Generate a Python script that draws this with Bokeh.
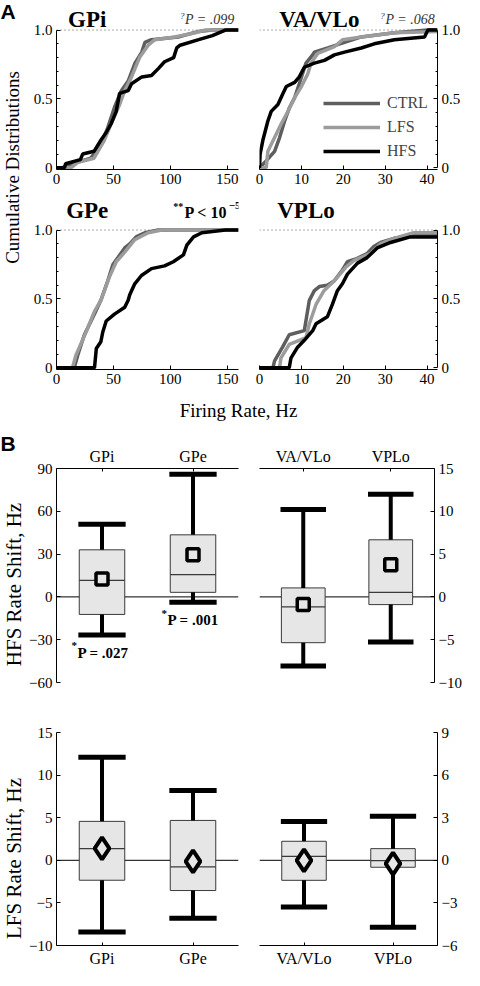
import numpy as np
from bokeh.plotting import figure
from bokeh.models import Range1d, FixedTicker, Span, Legend, LegendItem
from bokeh.layouts import row, column
from bokeh.embed import file_html
from bokeh.resources import INLINE
from bokeh.core.properties import value

# ---------------- data: cumulative distributions (Hz, fraction) ----------------
gpi_ctrl_x = [0, 5, 10, 30, 39, 45, 51, 57, 63, 69, 75, 77.7, 83.5, 107, 125, 137, 160]
gpi_ctrl_y = [0, 0, 0.02, 0.07, 0.17, 0.29, 0.44, 0.56, 0.63, 0.76, 0.84, 0.91, 0.93, 0.95, 0.99, 1.0, 1.0]
gpi_lfs_x = [0, 12.7, 18.6, 33, 42, 48, 55.5, 60, 66, 73, 80.6, 86.5, 104, 122, 131, 160]
gpi_lfs_y = [0, 0, 0.04, 0.07, 0.2, 0.32, 0.46, 0.56, 0.66, 0.8, 0.89, 0.93, 0.95, 0.98, 1.0, 1.0]
gpi_hfs_x = [0, 7, 8, 21, 23, 33, 39, 44, 48, 52.5, 55.5, 63, 66, 75, 83.5, 89.5, 95, 103, 105.7, 108.7, 125, 137, 148.5, 160]
gpi_hfs_y = [0, 0, 0.03, 0.06, 0.1, 0.12, 0.2, 0.26, 0.32, 0.41, 0.54, 0.56, 0.61, 0.66, 0.67, 0.72, 0.77, 0.8, 0.87, 0.89, 0.93, 0.96, 1.0, 1.0]

va_ctrl_x = [0, 1.6, 3.6, 4.8, 6, 7.2, 8.4, 9.5, 11.1, 12.7, 13.1, 16.3, 20.3, 24.3, 32.2, 40.2, 42.5]
va_ctrl_y = [0, 0.05, 0.12, 0.22, 0.34, 0.44, 0.51, 0.61, 0.76, 0.82, 0.84, 0.87, 0.91, 0.95, 0.98, 1.0, 1.0]
va_lfs_x = [0, 1.6, 2.0, 3.6, 5.2, 6.8, 8.4, 10, 11.5, 12.3, 13.9, 17.9, 19.9, 24.3, 32.2, 42.5]
va_lfs_y = [0, 0, 0.12, 0.22, 0.32, 0.41, 0.51, 0.59, 0.68, 0.76, 0.83, 0.88, 0.93, 0.95, 0.98, 0.99]
va_hfs_x = [0, 0.15, 0.8, 2.0, 2.8, 4.4, 5.6, 6.4, 8.4, 9.5, 10.7, 13.1, 15.5, 17.9, 20.3, 24.3, 27.4, 32.2, 39.4, 40.2, 42.5]
va_hfs_y = [0, 0.1, 0.2, 0.34, 0.41, 0.46, 0.54, 0.59, 0.62, 0.66, 0.73, 0.76, 0.78, 0.82, 0.84, 0.87, 0.9, 0.93, 0.95, 1.0, 1.0]

gpe_ctrl_x = [0, 15.6, 18.6, 24.5, 33.4, 39, 45, 49.6, 54, 60, 64.4, 70, 77.6, 89.5, 160]
gpe_ctrl_y = [0, 0, 0.09, 0.24, 0.39, 0.49, 0.63, 0.75, 0.8, 0.87, 0.9, 0.95, 0.98, 1.0, 1.0]
gpe_lfs_x = [0, 14, 17, 26, 33.4, 39, 46.6, 52.5, 60, 68.8, 80.6, 92.4, 160]
gpe_lfs_y = [0, 0, 0.09, 0.26, 0.41, 0.49, 0.66, 0.77, 0.84, 0.93, 0.98, 1.0, 1.0]
gpe_hfs_x = [0, 33.4, 35, 39, 40.7, 43.7, 51, 60, 63, 64.4, 68.8, 74.7, 83.5, 95, 102.7, 111.6, 114.6, 120.5, 127.8, 148.5, 160]
gpe_hfs_y = [0, 0, 0.14, 0.19, 0.26, 0.34, 0.39, 0.44, 0.49, 0.53, 0.61, 0.67, 0.72, 0.74, 0.77, 0.82, 0.89, 0.95, 0.98, 1.0, 1.0]

vpl_ctrl_x = [0, 3.2, 3.6, 5.5, 7.1, 10.7, 11.9, 13.1, 14.3, 16.2, 17.8, 19.8, 21, 23, 25.7, 27.3, 28.9, 32.1, 36.8, 42.5]
vpl_ctrl_y = [0, 0, 0.05, 0.15, 0.24, 0.27, 0.49, 0.56, 0.59, 0.6, 0.63, 0.71, 0.77, 0.79, 0.83, 0.88, 0.91, 0.94, 0.96, 0.96]
vpl_lfs_x = [0, 4.8, 5.1, 7.1, 9.5, 11.1, 11.9, 13.5, 15.4, 17.8, 20.6, 22.6, 26.5, 28.9, 32.1, 36.8, 42.5]
vpl_lfs_y = [0, 0, 0.07, 0.17, 0.2, 0.22, 0.32, 0.46, 0.56, 0.63, 0.73, 0.78, 0.83, 0.9, 0.94, 0.98, 0.98]
vpl_hfs_x = [0, 7.1, 7.5, 9.1, 10.7, 12.7, 13.5, 16.2, 17.4, 18.6, 19.8, 21, 23.4, 25.7, 28.1, 31.3, 36, 42.5]
vpl_hfs_y = [0, 0, 0.07, 0.15, 0.2, 0.27, 0.32, 0.37, 0.46, 0.56, 0.61, 0.68, 0.76, 0.8, 0.87, 0.91, 0.95, 0.95]

series_names = ["CTRL", "LFS", "HFS"]

# ---------------- data: rate shift box plots ----------------
bg_cats = ["GPi", "GPe"]
th_cats = ["VA/VLo", "VPLo"]
cat_pos = [1, 2]

hfs_bg_lo = [-26.7, -3.7]
hfs_bg_q1 = [-12.3, 3.2]
hfs_bg_med = [11.6, 15.6]
hfs_bg_q3 = [33.0, 43.5]
hfs_bg_hi = [51.0, 86.0]
hfs_bg_mean = [12.5, 29.6]

hfs_th_lo = [-8.06, -5.27]
hfs_th_q1 = [-5.35, -0.9]
hfs_th_med = [-1.16, 0.54]
hfs_th_q3 = [1.05, 6.67]
hfs_th_hi = [10.2, 12.0]
hfs_th_mean = [-0.9, 3.76]

lfs_bg_lo = [-8.43, -6.8]
lfs_bg_q1 = [-2.34, -3.55]
lfs_bg_med = [1.37, -0.78]
lfs_bg_q3 = [4.57, 4.68]
lfs_bg_hi = [12.1, 8.2]
lfs_bg_mean = [1.4, -0.12]

lfs_th_lo = [-3.28, -4.72]
lfs_th_q1 = [-1.41, -0.49]
lfs_th_med = [0.28, -0.02]
lfs_th_q3 = [1.34, 0.82]
lfs_th_hi = [2.74, 3.1]
lfs_th_mean = [0.0, -0.23]

hfs_bg_ticks = [-60, -30, 0, 30, 60, 90]
hfs_th_ticks = [-10, -5, 0, 5, 10, 15]
lfs_bg_ticks = [-10, -5, 0, 5, 10, 15]
lfs_th_ticks = [-6, -3, 0, 3, 6, 9]

# ---------------- style ----------------
SERIF = "Liberation Serif"
SANS = "Liberation Sans"
COLORS = {"CTRL": "#5e5e5e", "LFS": "#9c9c9c", "HFS": "#000000"}
PPU = 137.8  # px per unit of cumulative fraction


def minus(t):
    s = ("%g" % t)
    return s.replace("-", "\u2212")


def style_axis(ax, size="15px"):
    ax.axis_line_color = "black"
    ax.axis_line_width = 1
    ax.major_tick_in = 4
    ax.major_tick_out = 0
    ax.minor_tick_in = 0
    ax.minor_tick_out = 0
    ax.major_tick_line_color = "black"
    ax.major_label_text_font = SERIF
    ax.major_label_text_font_size = size
    ax.major_label_text_color = "black"
    ax.major_label_standoff = 4


def base_fig(w, h, xr, yr, mbl, mbr, mbt, mbb, xloc="below", yloc="left"):
    p = figure(width=w, height=h, x_range=xr, y_range=yr, output_backend="svg",
               toolbar_location=None, title=None, x_axis_location=xloc, y_axis_location=yloc,
               min_border_left=mbl, min_border_right=mbr, min_border_top=mbt, min_border_bottom=mbb)
    p.grid.visible = False
    p.outline_line_color = None
    p.background_fill_color = "white"
    p.border_fill_color = "white"
    return p


def txt(p, x, y, s, size, style="normal", align="left", color="black", font=SERIF, angle=0.0):
    p.text(x=[x], y=[y], text=[s], text_font=value(font), text_font_size=size,
           text_font_style=style, text_align=align, text_baseline="middle",
           text_color=color, angle=angle)


def cdf_panel(w, h, mbl, mbr, mbb, xmax, xticks, yloc, data, title, tx, ty):
    ytop = -0.012 + (h - mbb) / PPU
    p = base_fig(w, h, Range1d(0, xmax), Range1d(-0.012, ytop), mbl, mbr, 0, mbb, yloc=yloc)
    xa, ya = p.xaxis[0], p.yaxis[0]
    style_axis(xa)
    style_axis(ya)
    xa.ticker = FixedTicker(ticks=xticks)
    ya.ticker = FixedTicker(ticks=[0, 0.5, 1.0],
                            minor_ticks=[0.1, 0.2, 0.3, 0.4, 0.6, 0.7, 0.8, 0.9])
    ya.minor_tick_in = 2
    ya.minor_tick_line_color = "black"
    ya.bounds = (0, 1)
    ya.major_label_overrides = {0: "0", 0.5: "0.5", 1: "1.0"}
    p.add_layout(Span(location=1, dimension="width", line_color="#555555",
                      line_dash="1 3", line_width=1, level="underlay"))
    rends = {}
    for name, (xs, ys) in zip(series_names, data):
        rends[name] = p.line(xs, ys, line_color=COLORS[name], line_width=3.5)
    txt(p, tx, ty, title, "23px", style="bold", align="center")
    return p, rends


def box_panel(w, h, mbl, mbr, mbt, mbb, ylim, ticks, cats, lo, q1, med, q3, hi, mean,
              marker, msize, xloc, yloc):
    p = base_fig(w, h, Range1d(0.5, 2.5), Range1d(*ylim), mbl, mbr, mbt, mbb,
                 xloc=xloc, yloc=yloc)
    xa, ya = p.xaxis[0], p.yaxis[0]
    style_axis(xa, "16px")
    style_axis(ya)
    xa.major_tick_in = 3
    xa.ticker = FixedTicker(ticks=cat_pos)
    xa.major_label_overrides = {c: lab for c, lab in zip(cat_pos, cats)}
    ya.ticker = FixedTicker(ticks=ticks)
    ya.major_label_overrides = {t: minus(t) for t in ticks}
    p.add_layout(Span(location=0, dimension="width", line_color="black",
                      line_width=1, level="underlay"))
    pos = np.array(cat_pos, dtype=float)
    p.vbar(x=pos, width=0.5, bottom=q1, top=q3, fill_color="#e6e6e6",
           line_color="#3a3a3a", line_width=1)
    p.segment(x0=pos - 0.25, x1=pos + 0.25, y0=med, y1=med, line_color="#3a3a3a", line_width=1.3)
    p.segment(x0=pos, x1=pos, y0=q3, y1=hi, line_color="black", line_width=4)
    p.segment(x0=pos, x1=pos, y0=lo, y1=q1, line_color="black", line_width=4)
    p.segment(x0=pos - 0.26, x1=pos + 0.26, y0=hi, y1=hi, line_color="black", line_width=5)
    p.segment(x0=pos - 0.26, x1=pos + 0.26, y0=lo, y1=lo, line_color="black", line_width=5)
    lw = 3.5 if marker == "square" else 4
    p.scatter(x=pos, y=mean, marker=marker, size=msize, line_color="black",
              line_width=lw, fill_color="#e6e6e6")
    return p


# ---------------- panel A ----------------
LW, RW = 218, 220
p_gpi, _ = cdf_panel(LW, 192, 30, 6, 23, 160, [0, 50, 100, 150], "left",
                     [(gpi_ctrl_x, gpi_ctrl_y), (gpi_lfs_x, gpi_lfs_y), (gpi_hfs_x, gpi_hfs_y)],
                     "GPi", 27, 1.077)
txt(p_gpi, 156.5, 1.077, "P = .099", "14px", style="italic", align="right", color="#333333")
txt(p_gpi, 112.5, 1.10, "?", "9px", style="italic", align="right", color="#333333")

p_va, va_r = cdf_panel(RW, 192, 15, 27, 23, 42.5, [0, 10, 20, 30, 40], "right",
                       [(va_ctrl_x, va_ctrl_y), (va_lfs_x, va_lfs_y), (va_hfs_x, va_hfs_y)],
                       "VA/VLo", 14.3, 1.077)
txt(p_va, 41.9, 1.077, "P = .068", "14px", style="italic", align="right", color="#333333")
txt(p_va, 29.9, 1.10, "?", "9px", style="italic", align="right", color="#333333")
legend = Legend(items=[LegendItem(label=n, renderers=[va_r[n]]) for n in series_names],
                location=(64, 8), glyph_width=57, glyph_height=20, label_height=20,
                label_standoff=7, spacing=4, padding=0, margin=0,
                border_line_color=None, background_fill_alpha=0,
                label_text_font=SERIF, label_text_font_size="16px")
p_va.add_layout(legend)

p_gpe, _ = cdf_panel(LW, 200, 30, 6, 23, 160, [0, 50, 100, 150], "left",
                     [(gpe_ctrl_x, gpe_ctrl_y), (gpe_lfs_x, gpe_lfs_y), (gpe_hfs_x, gpe_hfs_y)],
                     "GPe", 27, 1.142)
txt(p_gpe, 112.5, 1.127, "P < 10", "16px", style="bold", align="left")
txt(p_gpe, 111.5, 1.17, "**", "10px", style="bold", align="right")
txt(p_gpe, 151.5, 1.175, "\u22125", "11px", style="bold", align="left")

p_vpl, _ = cdf_panel(RW, 200, 15, 27, 23, 42.5, [0, 10, 20, 30, 40], "right",
                     [(vpl_ctrl_x, vpl_ctrl_y), (vpl_lfs_x, vpl_lfs_y), (vpl_hfs_x, vpl_hfs_y)],
                     "VPLo", 11.1, 1.142)

# x label strip
p_xlab = figure(width=LW + RW, height=40, x_range=Range1d(34, 472), y_range=Range1d(0, 40),
                output_backend="svg", toolbar_location=None, title=None,
                x_axis_location=None, y_axis_location=None, min_border=0)
p_xlab.grid.visible = False
p_xlab.outline_line_color = None
txt(p_xlab, 246, 22, "Firing Rate, Hz", "19px", align="center")

# ---------------- panel B ----------------
p_hbg = box_panel(LW, 275, 30, 6, 36, 25, (-60, 90), hfs_bg_ticks, bg_cats,
                  hfs_bg_lo, hfs_bg_q1, hfs_bg_med, hfs_bg_q3, hfs_bg_hi, hfs_bg_mean,
                  "square", 12, "above", "left")
txt(p_hbg, 0.73, -39, "P = .027", "15px", style="bold")
txt(p_hbg, 0.725, -34, "*", "11px", style="bold", align="right")
txt(p_hbg, 1.72, -16, "P = .001", "15px", style="bold")
txt(p_hbg, 1.715, -11, "*", "11px", style="bold", align="right")

p_hth = box_panel(RW, 275, 15, 27, 36, 25, (-10, 15), hfs_th_ticks, th_cats,
                  hfs_th_lo, hfs_th_q1, hfs_th_med, hfs_th_q3, hfs_th_hi, hfs_th_mean,
                  "square", 12, "above", "right")

p_lbg = box_panel(LW, 263, 30, 6, 25, 25, (-10, 15), lfs_bg_ticks, bg_cats,
                  lfs_bg_lo, lfs_bg_q1, lfs_bg_med, lfs_bg_q3, lfs_bg_hi, lfs_bg_mean,
                  "diamond", 22, "below", "left")
p_lth = box_panel(RW, 263, 15, 27, 25, 25, (-6, 9), lfs_th_ticks, th_cats,
                  lfs_th_lo, lfs_th_q1, lfs_th_med, lfs_th_q3, lfs_th_hi, lfs_th_mean,
                  "diamond", 22, "below", "right")

# ---------------- left strip (panel letters, y labels) ----------------
H = 970
strip = figure(width=26, height=H, x_range=Range1d(8, 34), y_range=Range1d(0, H),
               output_backend="svg", toolbar_location=None, title=None,
               x_axis_location=None, y_axis_location=None, min_border=0)
strip.grid.visible = False
strip.outline_line_color = None


def py(page_y):
    return 978 - page_y


txt(strip, 8, py(19), "A", "21px", style="bold", font=SANS)
txt(strip, 8, py(451), "B", "21px", style="bold", font=SANS)
txt(strip, 20, py(175), "Cumulative Distributions", "19px", align="center", angle=np.pi / 2)
txt(strip, 21, py(592), "HFS Rate Shift, Hz", "21px", align="center", angle=np.pi / 2)
txt(strip, 21, py(866), "LFS Rate Shift, Hz", "21px", align="center", angle=np.pi / 2)

layout = row(strip, column(row(p_gpi, p_va), row(p_gpe, p_vpl), p_xlab,
                           row(p_hbg, p_hth), row(p_lbg, p_lth)))

open("out.html", "w").write(file_html(layout, INLINE))
